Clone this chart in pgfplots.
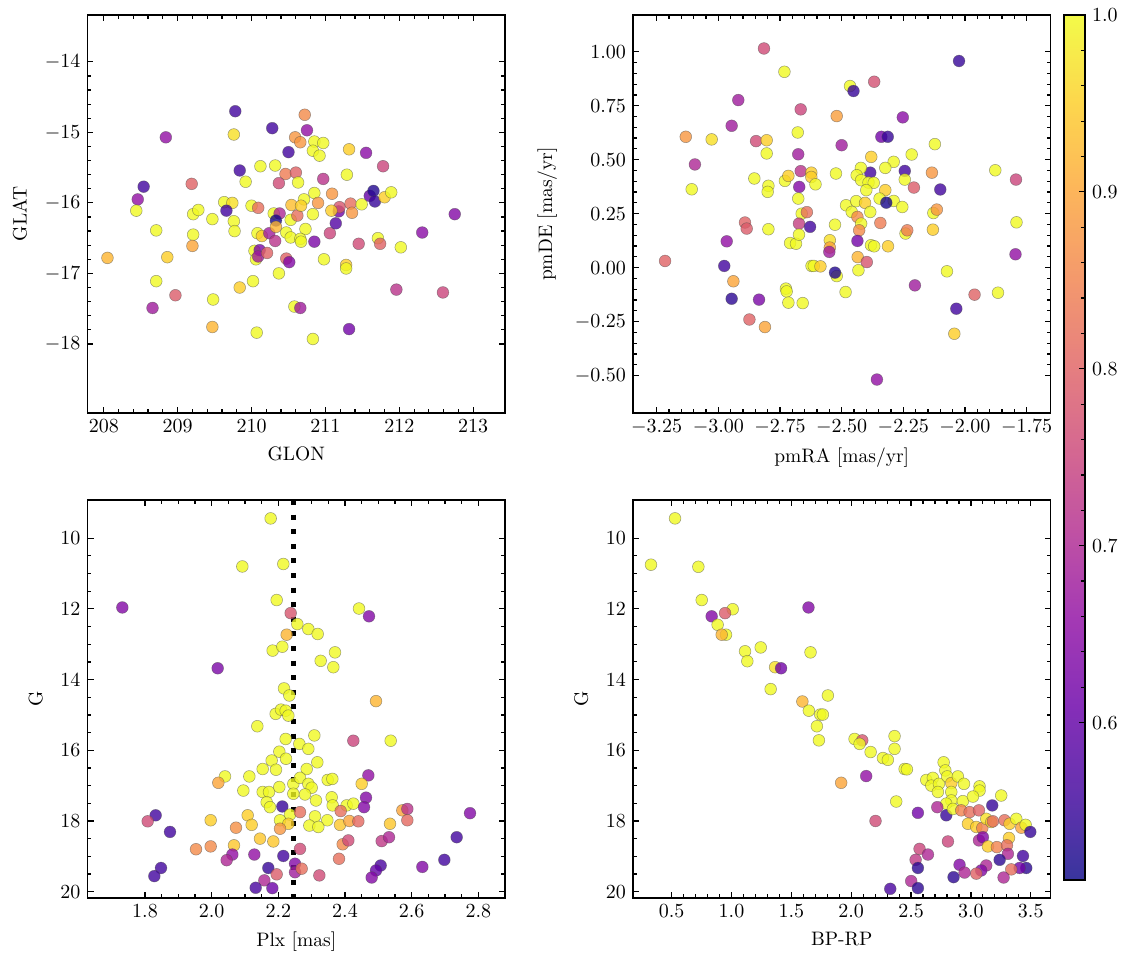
\documentclass[border=0pt]{standalone}
\usepackage{pgfplots}
\pgfplotsset{compat=1.18}
\newcommand\fs{\fontsize{9.75}{11.7}\selectfont}
\pgfplotsset{
  colormap={plasma}{rgb255=(13,8,135) rgb255=(65,4,157) rgb255=(106,0,168) rgb255=(143,13,164) rgb255=(177,42,144) rgb255=(204,71,120) rgb255=(225,100,98) rgb255=(242,132,75) rgb255=(252,166,54) rgb255=(252,206,37) rgb255=(240,249,33)},
  panel/.style={
    scale only axis, width=208.75pt, height=199pt,
    anchor=south west,
    tick align=inside,
    major tick length=3pt, minor tick length=1.8pt,
    tick style={line width=0.6pt, black},
    axis line style={line width=0.8pt},
    tick label style={font=\fs},
    label style={font=\fs},
    ylabel style={yshift=2pt},
    colormap name=plasma, point meta min=0.511, point meta max=1,
  },
  pts/.style={scatter, only marks, mark=*, mark size=2.95pt, scatter src=explicit,
    scatter/use mapped color={draw=black!70, fill=mapped color},
    mark options={line width=0.25pt, fill opacity=0.8, draw opacity=0.55}},
}
\pgfplotstableread{
x y c
209.78 -14.70 0.56
208.84 -15.07 0.66
209.76 -15.03 0.97
210.28 -14.94 0.56
210.59 -15.07 0.88
210.50 -15.28 0.56
209.84 -15.54 0.56
210.12 -15.48 1.0
210.32 -15.47 1.0
209.92 -15.70 1.0
210.46 -15.59 0.84
210.60 -15.57 0.80
210.37 -15.72 0.76
208.54 -15.77 0.56
209.19 -15.73 0.80
208.46 -15.95 0.66
208.44 -16.11 1.0
208.71 -16.39 1.0
209.21 -16.16 1.0
209.28 -16.10 1.0
209.47 -16.23 1.0
209.63 -15.99 1.0
209.74 -16.00 0.97
209.66 -16.11 0.56
209.76 -16.26 1.0
209.77 -16.40 1.0
210.00 -16.04 1.0
210.09 -16.07 0.82
210.30 -16.15 1.0
210.38 -16.15 0.70
210.33 -16.25 0.52
210.54 -16.03 0.93
209.21 -16.45 1.0
209.20 -16.61 0.90
208.86 -16.77 0.95
208.05 -16.78 0.92
208.71 -17.11 1.0
208.97 -17.31 0.79
208.66 -17.49 0.68
209.48 -17.37 1.0
209.47 -17.76 0.92
209.84 -17.20 0.95
210.02 -17.11 1.0
210.07 -17.84 1.0
210.37 -17.00 1.0
210.08 -16.43 1.0
210.14 -16.47 0.95
210.24 -16.43 0.68
210.32 -16.54 0.72
210.33 -16.34 0.92
210.47 -16.42 1.0
210.53 -16.49 1.0
210.53 -16.24 1.0
210.62 -16.18 0.82
210.04 -16.68 1.0
210.06 -16.80 1.0
210.11 -16.67 0.63
210.09 -16.76 0.68
210.21 -16.71 0.80
210.47 -16.79 0.80
210.51 -16.84 0.64
210.58 -17.47 1.0
210.66 -17.49 0.68
210.72 -14.75 0.86
210.75 -14.97 0.66
210.66 -15.14 0.88
210.85 -15.13 1.0
210.97 -15.15 1.0
210.83 -15.26 1.0
210.92 -15.33 1.0
211.32 -15.24 0.95
211.55 -15.29 0.65
211.78 -15.48 0.75
211.29 -15.60 1.0
210.97 -15.66 0.72
210.63 -15.71 1.0
211.09 -15.87 0.88
210.85 -15.86 1.0
210.71 -15.95 1.0
210.67 -16.04 0.95
210.90 -16.00 0.88
210.83 -16.16 1.0
210.73 -16.37 1.0
210.66 -16.51 1.0
210.67 -16.55 1.0
210.85 -16.55 0.63
211.06 -16.43 0.75
211.14 -16.29 0.58
211.18 -16.12 0.62
211.19 -16.06 0.78
211.34 -16.01 0.82
211.36 -16.14 0.88
211.08 -16.11 0.95
211.49 -16.02 1.0
211.60 -15.90 0.60
211.65 -15.83 0.53
211.67 -15.98 0.55
211.80 -15.92 0.95
211.89 -15.85 1.0
211.45 -16.58 0.76
211.71 -16.50 1.0
211.74 -16.58 0.80
212.02 -16.63 1.0
212.31 -16.42 0.65
212.75 -16.16 0.64
210.98 -16.80 1.0
211.28 -16.88 0.95
211.28 -16.93 1.0
211.96 -17.23 0.72
212.59 -17.27 0.75
211.32 -17.79 0.62
210.83 -17.93 1.0
}\tabA
\pgfplotstableread{
x y c
-2.815 1.015 0.76
-2.732 0.907 1.0
-2.919 0.776 0.68
-2.666 0.733 0.75
-3.132 0.606 0.88
-3.027 0.594 0.97
-2.946 0.657 0.68
-2.847 0.586 0.76
-2.804 0.590 0.95
-2.804 0.529 1.0
-2.678 0.626 1.0
-3.095 0.478 0.70
-3.108 0.363 1.0
-2.854 0.413 1.0
-2.797 0.379 1.0
-2.800 0.351 1.0
-2.730 0.402 1.0
-2.716 0.425 0.95
-2.676 0.525 0.68
-2.666 0.447 0.72
-2.672 0.374 0.64
-2.676 0.320 1.0
-2.662 0.250 1.0
-2.641 0.257 0.82
-2.673 0.204 0.74
-2.628 0.189 0.56
-2.892 0.209 0.80
-2.885 0.181 0.79
-2.797 0.178 1.0
-2.966 0.122 0.66
-2.709 0.114 1.0
-2.685 0.111 1.0
-2.673 0.153 1.0
-3.216 0.031 0.80
-2.976 0.008 0.56
-2.939 -0.063 0.90
-2.946 -0.144 0.54
-2.835 -0.148 0.63
-2.726 -0.097 1.0
-2.723 -0.110 1.0
-2.716 -0.162 1.0
-2.658 -0.164 1.0
-2.874 -0.240 0.80
-2.811 -0.275 0.90
-2.622 0.008 1.0
-2.024 0.957 0.55
-2.368 0.861 0.77
-2.466 0.841 1.0
-2.452 0.818 0.55
-2.520 0.702 0.89
-2.252 0.696 0.65
-2.339 0.606 0.62
-2.313 0.606 0.55
-2.500 0.567 0.68
-2.122 0.572 1.0
-2.380 0.513 0.95
-2.216 0.524 1.0
-2.289 0.490 1.0
-2.323 0.462 1.0
-2.244 0.448 0.56
-2.244 0.408 1.0
-2.134 0.440 0.88
-2.207 0.371 0.79
-2.100 0.362 0.56
-2.384 0.440 0.56
-2.422 0.462 1.0
-2.439 0.428 1.0
-2.421 0.405 1.0
-2.391 0.394 1.0
-2.370 0.393 1.0
-2.523 0.436 1.0
-2.623 0.440 0.95
-2.623 0.420 0.95
-2.606 0.386 1.0
-2.400 0.359 1.0
-2.323 0.359 0.95
-2.346 0.320 1.0
-2.289 0.309 1.0
-2.254 0.281 1.0
-2.482 0.289 1.0
-2.441 0.308 1.0
-2.405 0.300 0.95
-2.319 0.301 0.52
-2.459 0.258 1.0
-2.384 0.258 1.0
-2.436 0.235 0.86
-2.421 0.204 1.0
-2.343 0.207 0.84
-2.527 0.199 1.0
-2.128 0.253 1.0
-2.114 0.269 0.88
-2.130 0.176 0.95
-2.241 0.158 1.0
-2.234 0.173 0.84
-2.429 0.173 0.86
-2.436 0.124 0.62
-2.381 0.104 1.0
-2.368 0.099 1.0
-2.312 0.099 0.95
-2.548 0.127 0.97
-2.548 0.093 0.90
-2.550 0.073 0.68
-2.435 0.049 0.92
-2.398 0.026 0.78
-2.432 -0.012 1.0
-2.613 0.008 1.0
-2.586 0.006 0.95
-2.520 -0.039 1.0
-2.527 -0.023 0.53
-2.484 -0.113 1.0
-2.203 -0.082 0.68
-2.073 -0.017 1.0
-1.961 -0.125 0.80
-1.866 -0.116 1.0
-2.035 -0.190 0.56
-2.043 -0.306 0.95
-2.357 -0.518 0.66
-1.877 0.451 1.0
-1.793 0.408 0.75
-1.791 0.210 1.0
-1.795 0.062 0.66
}\tabB
\pgfplotstableread{
x y c
2.177 9.44 1.0
2.092 10.80 1.0
2.215 10.73 1.0
1.732 11.96 0.64
2.195 11.75 1.0
2.237 12.12 0.78
2.225 12.73 0.92
2.183 13.18 1.0
2.212 13.07 1.0
2.018 13.68 0.63
2.217 14.25 1.0
2.233 14.45 1.0
2.192 14.97 1.0
2.208 14.85 1.0
2.222 14.88 1.0
2.230 15.02 1.0
2.137 15.32 1.0
2.222 15.68 1.0
2.203 16.04 1.0
2.180 16.29 1.0
2.223 16.24 1.0
2.153 16.53 1.0
2.193 16.55 1.0
2.040 16.74 1.0
2.020 16.92 0.90
2.113 16.74 1.0
2.095 17.14 1.0
2.153 17.18 1.0
2.172 17.18 1.0
2.203 17.04 1.0
2.165 17.47 1.0
2.175 17.61 1.0
2.212 17.59 0.55
2.245 16.95 1.0
2.245 17.23 1.0
2.235 17.82 1.0
2.205 17.98 1.0
2.230 18.08 0.95
2.205 18.22 0.88
2.108 17.84 0.95
2.120 18.11 0.95
2.073 18.19 0.87
1.997 17.98 0.95
1.832 17.84 0.56
1.808 18.01 0.76
1.875 18.31 0.56
2.145 18.50 0.94
2.185 18.58 0.94
2.067 18.69 0.94
1.997 18.72 0.86
1.953 18.80 0.86
2.062 18.95 0.66
2.045 19.11 0.70
2.128 18.95 0.66
2.215 18.99 0.56
1.848 19.33 0.56
1.828 19.56 0.56
2.170 19.33 0.55
2.195 19.51 0.79
2.158 19.68 0.70
2.132 19.89 0.57
2.182 19.90 0.61
2.250 19.21 0.64
2.250 19.45 0.68
2.442 11.99 1.0
2.472 12.21 0.64
2.257 12.43 1.0
2.290 12.57 1.0
2.318 12.71 1.0
2.370 13.23 1.0
2.327 13.47 1.0
2.365 13.65 1.0
2.493 14.61 0.92
2.308 15.58 1.0
2.263 15.82 1.0
2.290 15.96 1.0
2.425 15.73 0.75
2.537 15.73 1.0
2.317 16.34 1.0
2.285 16.53 1.0
2.265 16.78 1.0
2.290 16.95 1.0
2.300 17.06 1.0
2.280 17.25 1.0
2.348 16.84 1.0
2.362 16.81 1.0
2.470 16.71 0.66
2.450 16.95 0.95
2.313 17.42 1.0
2.360 17.33 1.0
2.363 17.56 1.0
2.405 17.56 1.0
2.425 17.51 1.0
2.463 17.34 0.64
2.457 17.61 0.64
2.265 17.75 0.82
2.310 17.87 1.0
2.347 17.98 1.0
2.293 18.13 1.0
2.320 18.17 1.0
2.387 17.72 0.82
2.385 18.11 0.94
2.413 18.00 0.90
2.440 18.01 0.81
2.535 18.08 0.94
2.572 17.70 0.90
2.587 17.66 0.72
2.587 17.98 0.81
2.775 17.78 0.64
2.393 18.66 0.86
2.410 18.55 0.76
2.510 18.57 0.73
2.532 18.46 0.70
2.735 18.46 0.56
2.382 19.07 0.82
2.265 18.79 0.76
2.270 19.35 0.82
2.323 19.54 0.76
2.507 19.26 0.57
2.493 19.40 0.60
2.480 19.60 0.64
2.632 19.30 0.64
2.698 19.10 0.56
}\tabC
\pgfplotstableread{
x y c
0.528 9.44 1.0
0.327 10.75 1.0
0.723 10.81 1.0
0.751 11.75 1.0
1.010 12.01 1.0
0.946 12.12 0.79
0.834 12.21 0.64
0.884 12.45 1.0
0.954 12.73 1.0
0.918 12.73 0.92
1.113 13.20 1.0
1.132 13.48 1.0
1.244 13.09 1.0
1.364 13.65 0.97
1.414 13.68 0.62
1.327 14.27 1.0
1.592 14.62 0.92
1.643 11.96 0.64
1.660 13.23 1.0
1.646 14.88 1.0
1.805 14.45 1.0
1.741 14.99 1.0
1.763 14.99 1.0
1.713 15.32 1.0
1.730 15.72 1.0
2.028 15.68 1.0
2.092 15.72 0.78
2.070 15.82 1.0
2.162 16.05 1.0
2.265 16.22 1.0
2.306 16.27 1.0
2.362 15.60 1.0
2.362 15.96 1.0
2.446 16.53 1.0
2.465 16.54 1.0
2.125 16.73 0.66
1.916 16.92 0.90
2.376 17.45 1.0
2.203 18.00 0.76
2.557 17.77 0.62
2.627 16.84 1.0
2.682 16.78 1.0
2.669 17.00 1.0
2.733 16.95 1.0
2.772 16.34 1.0
2.786 16.57 1.0
2.802 16.74 1.0
2.836 16.93 0.95
2.891 16.74 1.0
2.942 16.95 1.0
2.724 17.18 1.0
2.836 17.18 1.0
2.836 17.42 1.0
2.794 17.51 1.0
2.719 17.61 0.70
2.794 17.84 0.55
2.850 17.66 1.0
2.933 17.44 1.0
2.919 17.70 0.85
2.989 17.75 0.82
3.072 17.02 1.0
3.072 17.14 1.0
3.017 17.31 1.0
3.067 17.70 0.80
2.975 18.08 0.95
3.045 18.17 0.95
3.095 18.20 0.85
3.128 17.94 0.97
3.170 18.03 0.95
3.184 18.01 0.82
3.178 17.56 0.55
3.253 17.28 1.0
3.281 17.98 0.82
3.323 18.08 0.95
3.379 17.94 1.0
3.421 18.19 0.90
3.457 18.11 1.0
3.496 18.31 0.55
3.318 18.48 0.95
3.067 18.55 0.70
3.100 18.46 0.64
3.142 18.72 0.95
3.217 18.74 0.85
3.301 18.69 0.82
3.309 18.93 0.70
3.240 19.10 0.54
3.435 18.99 0.56
3.462 19.33 0.54
3.407 19.33 0.62
3.337 19.37 0.82
3.273 19.60 0.70
3.128 19.26 0.70
3.086 19.40 0.64
3.045 19.49 0.80
2.905 19.24 0.64
2.947 19.46 0.70
2.855 19.59 0.54
2.808 18.58 0.75
2.571 18.79 0.75
2.641 18.95 0.70
2.538 19.10 0.73
2.557 19.33 0.54
2.501 19.70 0.70
2.557 19.90 0.54
2.326 19.92 0.57
}\tabD
\begin{document}
\begin{tikzpicture}
% top left
\begin{axis}[panel, at={(43.75pt,276pt)},
  xmin=207.78, xmax=213.43, ymin=-18.98, ymax=-13.335,
  xtick={208,209,...,213}, ytick={-18,-17,...,-14},
  minor x tick num=4, minor y tick num=4,
  xlabel={GLON}, ylabel={GLAT}]
\addplot[pts] table[meta=c] {\tabA};
\end{axis}
% top right
\begin{axis}[panel, at={(316.5pt,276pt)},
  xmin=-3.346, xmax=-1.653, ymin=-0.673, ymax=1.170,
  xtick={-3.25,-3,...,-1.7}, ytick={-0.5,-0.25,...,1.01},
  minor x tick num=4, minor y tick num=4,
  xticklabel style={/pgf/number format/.cd, fixed, fixed zerofill, precision=2},
  yticklabel style={/pgf/number format/.cd, fixed, fixed zerofill, precision=2},
  xlabel={pmRA [mas/yr]}, ylabel={pmDE [mas/yr]}]
\addplot[pts] table[meta=c] {\tabB};
\end{axis}
% bottom left
\begin{axis}[panel, at={(43.75pt,33.5pt)},
  xmin=1.6275, xmax=2.88, ymin=8.92, ymax=20.18, y dir=reverse,
  xtick={1.8,2.0,...,2.81}, ytick={10,12,...,20},
  minor x tick num=3, minor y tick num=3,
  xticklabel style={/pgf/number format/.cd, fixed, fixed zerofill, precision=1},
  xlabel={Plx [mas]}, ylabel={G}]
\addplot[pts] table[meta=c] {\tabC};
\addplot[black, line width=2.5pt, dash pattern=on 2.5pt off 4.8pt, forget plot] coordinates {(2.245,8.92) (2.245,20.18)};
\end{axis}
% bottom right
\begin{axis}[panel, at={(316.5pt,33.5pt)},
  xmin=0.177, xmax=3.665, ymin=8.92, ymax=20.18, y dir=reverse,
  xtick={0.5,1.0,...,3.51}, ytick={10,12,...,20},
  minor x tick num=4, minor y tick num=3,
  xticklabel style={/pgf/number format/.cd, fixed, fixed zerofill, precision=1},
  xlabel={BP-RP}, ylabel={G}]
\addplot[pts] table[meta=c] {\tabD};
\end{axis}
% colorbar
\begin{axis}[panel, at={(532pt,42.5pt)}, width=10.5pt, height=432.5pt,
  xmin=0, xmax=1, ymin=0.511, ymax=1,
  xtick=\empty, ytick={0.6,0.7,0.8,0.9,1.0}, minor y tick num=4,
  ytick pos=right, yticklabel pos=right,
  yticklabel style={/pgf/number format/.cd, fixed, fixed zerofill, precision=1},
  axis on top]
\addplot[patch, shader=interp, point meta=explicit, fill opacity=0.82] coordinates {
(0,0.511) [0.511] (1,0.511) [0.511] (1,1) [1]
(0,0.511) [0.511] (1,1) [1] (0,1) [1]
};
\end{axis}
\pgfresetboundingbox
\path[use as bounding box] (0,0) rectangle (566.5pt,482.5pt);
\end{tikzpicture}
\end{document}
